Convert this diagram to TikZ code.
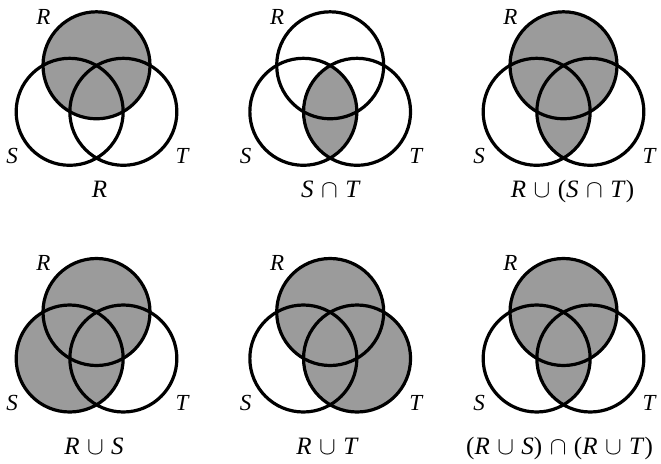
\RequirePackage{fix-cm}
\documentclass[tikz,border=0pt]{standalone}
\usepackage{fontspec}
\setmainfont{Liberation Serif}
\definecolor{shadegray}{RGB}{155,155,155}
\newcommand{\opsp}{\hspace{0.3em}}
\newcommand{\vcup}{\opsp$\cup$\opsp}
\newcommand{\vcap}{\opsp$\cap$\opsp}
\tikzset{
  x=1pt, y=-1pt,
  ring/.style={draw=black, line width=3.2pt},
  shaded/.style={fill=shadegray},
  lbl/.style={anchor=base, inner sep=0pt, font=\fontsize{23}{27}\selectfont\itshape},
  captext/.style={anchor=base, inner sep=0pt, font=\fontsize{25}{30}\selectfont},
}
\newcommand{\rr}{53.5pt}
\newcommand{\vennsetup}[1]{%
  \coordinate (R#1) at (0,-31);
  \coordinate (S#1) at (-26.85,15.5);
  \coordinate (T#1) at (26.85,15.5);
}
\newcommand{\venndraw}[1]{%
  \draw[ring] (R#1) circle[radius=\rr];
  \draw[ring] (S#1) circle[radius=\rr];
  \draw[ring] (T#1) circle[radius=\rr];
  \node[lbl] (lR#1) at (-53,-72.3) {R};
  \node[lbl] (lS#1) at (-84.5,67) {S};
  \node[lbl] (lT#1) at (85.5,67) {T};
}
\begin{document}
\begin{tikzpicture}
\useasboundingbox (0,0) rectangle (661,463);
% ---- diagram 1: R
\begin{scope}[shift={(96.5,96.3)}]
  \vennsetup{1}
  \fill[shaded] (R1) circle[radius=\rr];
  \venndraw{1}
\end{scope}
% ---- diagram 2: S cap T
\begin{scope}[shift={(330.2,96.3)}]
  \vennsetup{2}
  \begin{scope}
    \clip (S2) circle[radius=\rr];
    \fill[shaded] (T2) circle[radius=\rr];
  \end{scope}
  \venndraw{2}
\end{scope}
% ---- diagram 3: R cup (S cap T)
\begin{scope}[shift={(563.5,96.3)}]
  \vennsetup{3}
  \fill[shaded] (R3) circle[radius=\rr];
  \begin{scope}
    \clip (S3) circle[radius=\rr];
    \fill[shaded] (T3) circle[radius=\rr];
  \end{scope}
  \venndraw{3}
\end{scope}
% ---- diagram 4: R cup S
\begin{scope}[shift={(96.5,343)}]
  \vennsetup{4}
  \fill[shaded] (R4) circle[radius=\rr];
  \fill[shaded] (S4) circle[radius=\rr];
  \venndraw{4}
\end{scope}
% ---- diagram 5: R cup T
\begin{scope}[shift={(330.2,343)}]
  \vennsetup{5}
  \fill[shaded] (R5) circle[radius=\rr];
  \fill[shaded] (T5) circle[radius=\rr];
  \venndraw{5}
\end{scope}
% ---- diagram 6: (R cup S) cap (R cup T)
\begin{scope}[shift={(563.5,343)}]
  \vennsetup{6}
  \fill[shaded] (R6) circle[radius=\rr];
  \begin{scope}
    \clip (S6) circle[radius=\rr];
    \fill[shaded] (T6) circle[radius=\rr];
  \end{scope}
  \venndraw{6}
\end{scope}
% ---- captions
\node[captext] (c1) at (99.5,197.3) {\textit{R}};
\node[captext] (c2) at (331,197) {\textit{S}\vcap\textit{T}};
\node[captext] (c3) at (572.5,197.3) {\textit{R}\vcup(\textit{S}\vcap\textit{T})};
\node[captext] (c4) at (94,454) {\textit{R}\vcup\textit{S}};
\node[captext] (c5) at (327.5,454) {\textit{R}\vcup\textit{T}};
\node[captext, anchor=base west] (c6) at (466,454) {(\textit{R}\vcup\textit{S})\vcap(\textit{R}\vcup\textit{T})};
\end{tikzpicture}
\end{document}
